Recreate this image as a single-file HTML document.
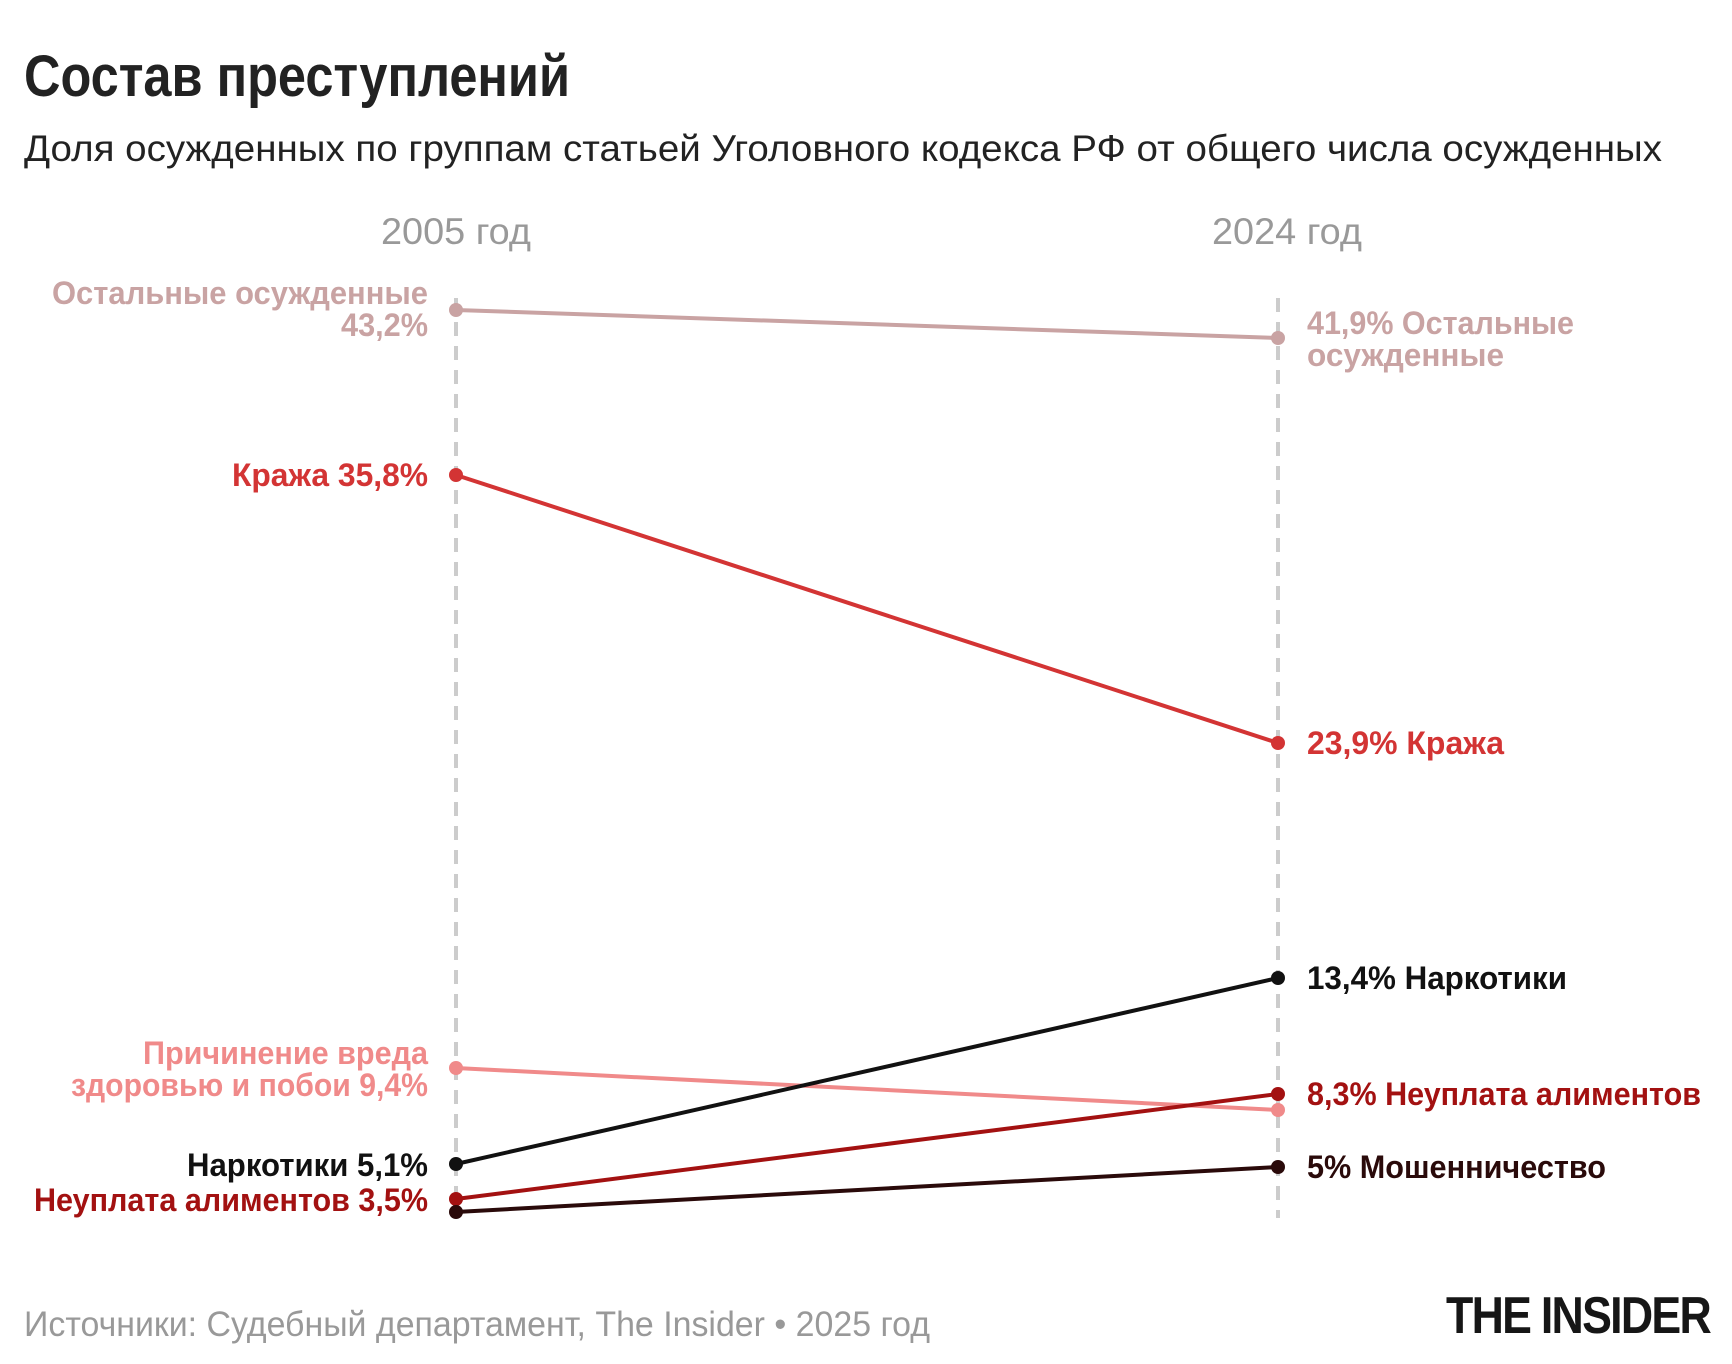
<!DOCTYPE html>
<html><head><meta charset="utf-8"><style>
html,body{margin:0;padding:0;background:#fff;}
svg{display:block;}
text{font-family:"Liberation Sans Narrow","Liberation Sans",sans-serif;}
.b{font-weight:bold;}
</style></head><body>
<svg width="1732" height="1364" viewBox="0 0 1732 1364" xmlns="http://www.w3.org/2000/svg">
<rect width="1732" height="1364" fill="#fff"/>
<text x="24" y="96" class="b" font-size="58" fill="#222" textLength="546" lengthAdjust="spacingAndGlyphs">Состав преступлений</text>
<text x="24" y="161" font-size="37" fill="#222" textLength="1638" lengthAdjust="spacingAndGlyphs">Доля осужденных по группам статьей Уголовного кодекса РФ от общего числа осужденных</text>
<text x="381" y="244" font-size="37" fill="#999" textLength="150" lengthAdjust="spacingAndGlyphs">2005 год</text>
<text x="1212" y="244" font-size="37" fill="#999" textLength="150" lengthAdjust="spacingAndGlyphs">2024 год</text>
<line x1="456" y1="298" x2="456" y2="1218" stroke="#ccc" stroke-width="4" stroke-dasharray="14,10"/>
<line x1="1278" y1="298" x2="1278" y2="1218" stroke="#ccc" stroke-width="4" stroke-dasharray="14,10"/>
<g stroke-width="4">
<line x1="456" y1="310" x2="1278" y2="338" stroke="#c9a3a3"/>
<line x1="456" y1="475" x2="1278" y2="743" stroke="#d33434"/>
<line x1="456" y1="1068" x2="1278" y2="1110" stroke="#f08a8a"/>
<line x1="456" y1="1164" x2="1278" y2="978" stroke="#111"/>
<line x1="456" y1="1199" x2="1278" y2="1094" stroke="#a31111"/>
<line x1="456" y1="1212" x2="1278" y2="1167" stroke="#2a0a0a"/>
</g>
<g>
<circle cx="456" cy="310" r="7" fill="#c9a3a3"/><circle cx="1278" cy="338" r="7" fill="#c9a3a3"/>
<circle cx="456" cy="475" r="7" fill="#d33434"/><circle cx="1278" cy="743" r="7" fill="#d33434"/>
<circle cx="456" cy="1068" r="7" fill="#f08a8a"/><circle cx="1278" cy="1110" r="7" fill="#f08a8a"/>
<circle cx="456" cy="1164" r="7" fill="#111"/><circle cx="1278" cy="978" r="7" fill="#111"/>
<circle cx="456" cy="1199" r="7" fill="#a31111"/><circle cx="1278" cy="1094" r="7" fill="#a31111"/>
<circle cx="456" cy="1212" r="7" fill="#2a0a0a"/><circle cx="1278" cy="1167" r="7" fill="#2a0a0a"/>
</g>
<g class="b" font-size="32">
<text x="52" y="304" fill="#c9a3a3" textLength="376" lengthAdjust="spacingAndGlyphs">Остальные осужденные</text>
<text x="341" y="336" fill="#c9a3a3" textLength="87" lengthAdjust="spacingAndGlyphs">43,2%</text>
<text x="232" y="486" fill="#d33434" textLength="196" lengthAdjust="spacingAndGlyphs">Кража 35,8%</text>
<text x="143" y="1064" fill="#f08a8a" textLength="285" lengthAdjust="spacingAndGlyphs">Причинение вреда</text>
<text x="71" y="1096" fill="#f08a8a" textLength="357" lengthAdjust="spacingAndGlyphs">здоровью и побои 9,4%</text>
<text x="187" y="1176" fill="#111" textLength="241" lengthAdjust="spacingAndGlyphs">Наркотики 5,1%</text>
<text x="34" y="1211" fill="#a31111" textLength="394" lengthAdjust="spacingAndGlyphs">Неуплата алиментов 3,5%</text>
<text x="1307" y="334" fill="#c9a3a3" textLength="267" lengthAdjust="spacingAndGlyphs">41,9% Остальные</text>
<text x="1307" y="366" fill="#c9a3a3" textLength="197" lengthAdjust="spacingAndGlyphs">осужденные</text>
<text x="1307" y="754" fill="#d33434" textLength="197" lengthAdjust="spacingAndGlyphs">23,9% Кража</text>
<text x="1307" y="989" fill="#111" textLength="260" lengthAdjust="spacingAndGlyphs">13,4% Наркотики</text>
<text x="1307" y="1105" fill="#a31111" textLength="394" lengthAdjust="spacingAndGlyphs">8,3% Неуплата алиментов</text>
<text x="1307" y="1178" fill="#2a0a0a" textLength="299" lengthAdjust="spacingAndGlyphs">5% Мошенничество</text>
</g>
<text x="24" y="1336" font-size="35" fill="#999" textLength="906" lengthAdjust="spacingAndGlyphs">Источники: Судебный департамент, The Insider • 2025 год</text>
<text x="1446" y="1333" font-size="52" fill="#161616" textLength="264" lengthAdjust="spacingAndGlyphs" style="font-family:'Liberation Sans',sans-serif;font-weight:bold;letter-spacing:-2px">THE INSIDER</text>
</svg>
</body></html>
